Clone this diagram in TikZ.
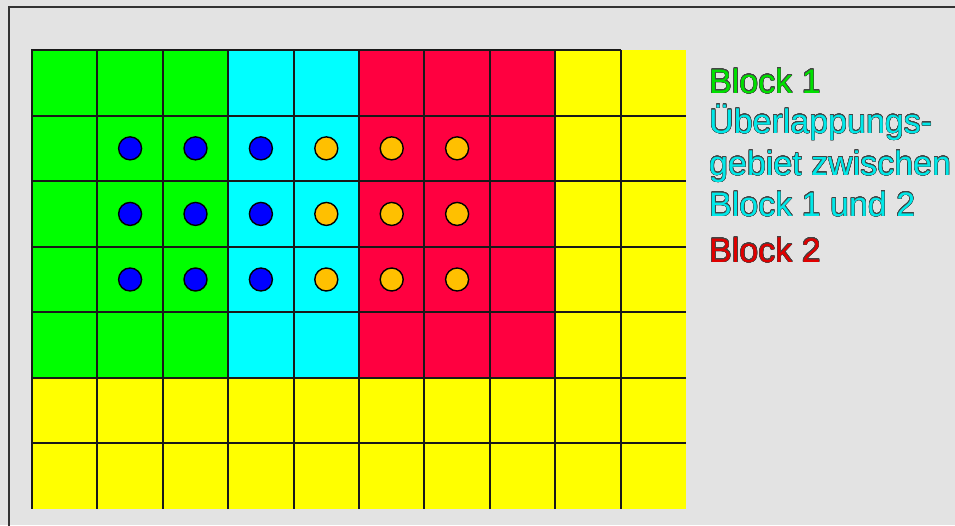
\documentclass[tikz,border=0pt]{standalone}
\usepackage{fontspec}
\setmainfont{Liberation Sans}
\usepackage{contour}
\contourlength{0.4pt}
\contournumber{24}
\definecolor{bg}{HTML}{E3E3E3}
\definecolor{cgreen}{HTML}{00FF00}
\definecolor{ccyan}{HTML}{00FFFF}
\definecolor{cred}{HTML}{FF0040}
\definecolor{cyellow}{HTML}{FFFF00}
\definecolor{cblue}{HTML}{0000FF}
\definecolor{corange}{HTML}{FFC000}
\definecolor{tgreen}{HTML}{00E000}
\definecolor{tcyan}{HTML}{00E8E8}
\definecolor{tred}{HTML}{E00000}
\definecolor{outl}{HTML}{444444}
\tikzset{
  gridline/.style={line width=2pt, draw=black!90},
  dotblue/.style={circle, fill=cblue, draw=black, line width=1.4pt, minimum size=23pt, inner sep=0pt},
  dotorange/.style={circle, fill=corange, draw=black, line width=1.4pt, minimum size=23pt, inner sep=0pt},
  legend/.style={anchor=base west, inner sep=0pt, font=\fontsize{34}{36}\selectfont},
}
\begin{document}
\begin{tikzpicture}[x=1pt,y=-1pt]
\useasboundingbox (0,0) rectangle (955,525);
\fill[bg] (0,0) rectangle (955,525);
\draw[line width=2pt, draw=black!80] (8.5,530) |- (960,6.5);
% cell colours
\fill[cyellow] (32,50) rectangle (686,509);
\fill[cgreen] (32,50) rectangle (228.2,377.9);
\fill[ccyan] (228.2,50) rectangle (359,377.9);
\fill[cred] (359,50) rectangle (555.2,377.9);
% grid lines
\foreach \i in {0,...,9} {
  \draw[gridline] ({32+\i*65.4},50) -- ({32+\i*65.4},509);
}
\draw[gridline] (31,50) -- (621,50);
\foreach \j in {1,...,6} {
  \draw[gridline] (32,{50+\j*65.57}) -- (686,{50+\j*65.57});
}
% dots
\foreach \r in {1,2,3} {
  \foreach \c in {1,2,3} {
    \node[dotblue] (b\r\c) at ({32+(\c+0.5)*65.4},{50+(\r+0.5)*65.57}) {};
  }
  \foreach \c in {4,5,6} {
    \node[dotorange] (o\r\c) at ({32+(\c+0.5)*65.4},{50+(\r+0.5)*65.57}) {};
  }
}
% legend
\node[legend] (l1) at (709,93) {\contour{outl}{\textcolor{tgreen}{Block 1}}};
\node[legend] (l2) at (709,133) {\contour{outl}{\textcolor{tcyan}{Überlappungs-}}};
\node[legend] (l3) at (709,175) {\contour{outl}{\textcolor{tcyan}{gebiet zwischen}}};
\node[legend] (l4) at (709,216) {\contour{outl}{\textcolor{tcyan}{Block 1 und 2}}};
\node[legend] (l5) at (709,262) {\contour{outl}{\textcolor{tred}{Block 2}}};
\end{tikzpicture}
\end{document}
